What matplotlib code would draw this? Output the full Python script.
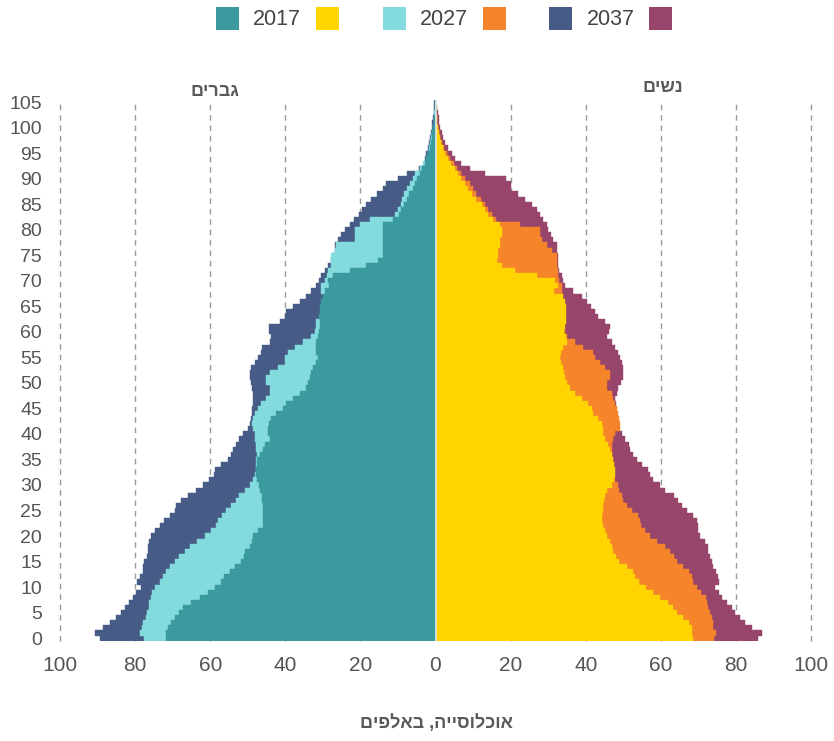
import matplotlib
matplotlib.use("Agg")
import matplotlib.pyplot as plt
from matplotlib.patches import Rectangle
import numpy as np

plt.rcParams['font.family'] = ['Liberation Sans', 'DejaVu Sans']

ages = list(range(0, 106))

# Men (thousands), ages 0..105
men_2017 = [71.7, 71.9, 71.3, 70.4, 69.5, 68.4, 67.3, 65.1, 62.8, 60.6,
            58.8, 57.1, 56.2, 54.8, 53.5, 51.7, 51.0, 50.6, 49.5, 49.0,
            48.6, 47.3, 46.0, 46.0, 46.0, 46.0, 46.0, 46.2, 46.3, 46.7,
            47.0, 47.5, 47.7, 47.7, 47.6, 47.5, 46.7, 46.0, 45.5, 44.2,
            44.6, 44.6, 44.4, 43.7, 42.4, 40.6, 39.7, 38.0, 36.2, 34.4,
            34.0, 33.5, 33.1, 32.6, 31.7, 31.3, 31.7, 31.9, 31.7, 31.3,
            30.9, 30.8, 30.8, 31.0, 30.8, 30.7, 30.4, 30.0, 29.5, 28.4,
            28.6, 27.3, 22.8, 18.4, 15.3, 14.0, 14.0, 14.0, 14.0, 14.0,
            14.0, 14.0, 11.3, 9.7, 9.1, 8.4, 7.7, 7.0, 6.1, 5.5,
            4.8, 4.2, 3.5, 2.8, 2.4, 2.0, 1.5, 1.2, 1.0, 0.8,
            0.6, 0.45, 0.35, 0.25, 0.2, 0.1]
men_2027 = [77.5, 78.7, 78.1, 77.8, 77.2, 76.9, 76.4, 76.2, 75.7, 75.5,
            74.6, 73.5, 72.6, 71.9, 70.8, 69.5, 68.2, 66.8, 65.5, 63.6,
            61.5, 59.7, 58.4, 58.0, 56.8, 55.7, 54.4, 53.1, 52.2, 50.8,
            49.5, 48.6, 48.2, 47.9, 47.9, 47.7, 47.6, 47.7, 47.9, 48.2,
            48.2, 48.6, 48.8, 48.6, 48.2, 47.3, 46.4, 45.1, 44.2, 44.2,
            45.1, 45.1, 44.2, 41.9, 40.2, 40.2, 39.3, 37.5, 35.3, 33.1,
            32.2, 31.7, 31.7, 30.7, 30.5, 30.4, 30.1, 29.7, 30.4, 30.4,
            29.5, 29.0, 28.6, 27.7, 27.7, 27.7, 26.8, 26.4, 21.5, 21.5,
            21.5, 20.2, 17.5, 10.8, 10.0, 9.1, 8.8, 8.4, 7.7, 6.8,
            6.1, 5.5, 4.2, 3.3, 2.6, 2.1, 1.7, 1.4, 1.1, 0.9,
            0.7, 0.5, 0.4, 0.3, 0.2, 0.15]
men_2037 = [89.4, 90.6, 88.6, 86.8, 85.1, 83.7, 82.8, 81.5, 80.6, 79.7,
            78.4, 79.6, 78.8, 78.0, 78.0, 77.5, 76.9, 76.6, 76.6, 76.4,
            75.7, 74.8, 73.5, 72.2, 70.8, 69.5, 69.1, 67.7, 66.0, 63.7,
            62.0, 60.2, 59.1, 58.8, 57.1, 55.3, 54.5, 54.0, 53.1, 52.2,
            51.3, 50.0, 49.3, 49.1, 49.0, 48.8, 48.6, 48.6, 48.6, 48.8,
            49.1, 49.3, 49.3, 49.1, 48.2, 47.3, 46.4, 46.1, 44.2, 43.7,
            44.4, 44.4, 41.5, 40.2, 39.7, 38.0, 36.2, 34.4, 33.1, 31.8,
            31.0, 30.4, 29.5, 28.6, 27.7, 27.3, 26.8, 26.8, 26.0, 25.1,
            24.2, 22.8, 21.7, 20.4, 19.7, 18.6, 17.2, 15.6, 14.0, 13.1,
            10.0, 7.5, 4.5, 3.0, 2.7, 2.4, 2.1, 1.8, 1.5, 1.2,
            1.0, 0.8, 0.6, 0.5, 0.4, 0.3]

# Women (thousands), ages 0..105
women_2017 = [68.6, 68.4, 68.3, 67.4, 66.0, 64.4, 63.2, 61.8, 59.8, 58.0,
              56.1, 54.3, 53.1, 52.5, 50.9, 48.9, 48.1, 47.4, 46.9, 46.5,
              45.8, 45.1, 44.5, 44.3, 44.3, 44.5, 44.7, 44.9, 45.1, 45.6,
              46.9, 47.6, 47.8, 47.8, 47.5, 47.4, 46.9, 46.5, 46.0, 45.1,
              44.7, 44.7, 44.3, 43.4, 42.0, 41.6, 40.7, 38.9, 37.1, 35.8,
              34.9, 34.5, 34.3, 34.0, 33.4, 33.2, 33.4, 34.0, 34.9, 34.7,
              34.3, 34.5, 34.7, 34.7, 34.7, 34.7, 34.5, 34.0, 31.5, 32.5,
              31.8, 26.9, 21.1, 17.6, 16.3, 16.7, 16.7, 17.1, 17.3, 17.6,
              17.6, 17.1, 15.4, 14.0, 13.1, 12.3, 10.9, 9.6, 8.7, 7.8,
              6.9, 6.0, 5.1, 4.2, 3.3, 2.5, 2.0, 1.5, 1.1, 0.8,
              0.6, 0.4, 0.3, 0.2, 0.15, 0.1]
women_2027 = [74.3, 74.8, 74.0, 73.9, 73.6, 73.1, 72.7, 72.4, 72.1, 70.7,
              69.6, 68.7, 68.3, 67.4, 66.0, 64.3, 63.4, 62.5, 61.1, 58.9,
              57.2, 55.8, 54.7, 54.5, 54.0, 52.3, 50.9, 50.0, 49.6, 48.9,
              48.5, 47.8, 47.5, 47.5, 47.5, 47.4, 46.9, 46.9, 46.9, 47.4,
              47.8, 49.2, 49.2, 48.9, 48.7, 48.3, 47.8, 47.4, 46.9, 45.6,
              45.6, 46.5, 46.5, 45.1, 43.8, 42.5, 42.0, 39.4, 37.1, 35.0,
              34.5, 34.2, 34.4, 34.4, 34.4, 34.4, 34.2, 33.7, 33.6, 33.6,
              33.0, 32.7, 32.5, 32.3, 32.3, 32.3, 30.9, 29.6, 28.3, 27.8,
              27.8, 22.5, 16.2, 15.0, 14.0, 13.2, 12.0, 10.8, 10.0, 9.1,
              7.8, 6.8, 5.8, 4.8, 3.9, 3.0, 2.3, 1.7, 1.3, 1.0,
              0.7, 0.5, 0.35, 0.25, 0.2, 0.12]
women_2037 = [86.0, 87.0, 84.3, 82.5, 81.2, 79.8, 78.9, 77.6, 76.3, 75.5,
              74.5, 75.6, 75.1, 74.7, 74.0, 73.6, 73.0, 72.7, 72.7, 71.8,
              70.5, 70.0, 69.9, 69.6, 68.7, 66.9, 65.6, 64.7, 63.4, 61.1,
              59.8, 57.9, 57.1, 56.7, 54.9, 53.6, 52.7, 51.8, 51.4, 50.5,
              49.6, 48.7, 48.8, 48.5, 48.3, 48.0, 48.2, 47.8, 48.3, 48.7,
              49.3, 50.0, 50.0, 50.0, 49.6, 49.1, 48.7, 47.8, 46.9, 45.6,
              46.3, 46.5, 45.1, 43.4, 42.5, 41.4, 40.3, 38.9, 36.7, 34.5,
              34.0, 33.6, 32.9, 32.7, 32.7, 32.7, 32.3, 32.3, 31.4, 30.7,
              30.0, 29.6, 28.7, 27.8, 26.9, 25.6, 23.8, 22.0, 20.1, 20.1,
              18.9, 13.1, 9.1, 6.9, 5.1, 4.3, 3.4, 2.5, 2.0, 1.6,
              1.2, 1.0, 0.8, 0.6, 0.4, 0.2]

years = ["2017", "2027", "2037"]
men_colors = {"2017": "#3A9A9E", "2027": "#83DBDE", "2037": "#465C86"}
women_colors = {"2017": "#FFD400", "2027": "#F5842A", "2037": "#97456B"}

x_ticks = [-100, -80, -60, -40, -20, 0, 20, 40, 60, 80, 100]
x_tick_labels = ["100", "80", "60", "40", "20", "0", "20", "40", "60", "80", "100"]
y_ticks = list(range(0, 106, 5))

men_label = "גברים"
women_label = "נשים"
x_title = "אוכלוסייה, באלפים"


def vis(s):
    # visual (left-to-right glyph) order for right-to-left Hebrew text
    return s[::-1]


W, H = 834, 741
fig = plt.figure(figsize=(W / 100, H / 100), dpi=100)
ax_left, ax_right, ax_top, ax_bottom = 60, 811, 99.5, 640.7
ax = fig.add_axes([ax_left / W, 1 - ax_bottom / H,
                   (ax_right - ax_left) / W, (ax_bottom - ax_top) / H])

men = {"2017": men_2017, "2027": men_2027, "2037": men_2037}
women = {"2017": women_2017, "2027": women_2027, "2037": women_2037}

for z, yr in enumerate(["2037", "2027", "2017"]):
    mv = -np.array(men[yr])
    wv = np.array(women[yr])
    ax.barh(ages, mv, height=1.0, color=men_colors[yr],
            edgecolor=men_colors[yr], linewidth=0.3, zorder=2 + z)
    ax.barh(ages, wv, height=1.0, color=women_colors[yr],
            edgecolor=women_colors[yr], linewidth=0.3, zorder=2 + z)

ax.axvline(0, color="#dfe7ea", lw=1.2, zorder=10)

for xv in x_ticks:
    if xv == 0:
        continue
    ax.axvline(xv, color="#9a9a9a", lw=1.0, ls=(0, (4, 3.5)), zorder=1,
               clip_on=False)

ax.set_xlim(-100, 100)
ax.set_ylim(-0.5, 105.5)
ax.set_xticks(x_ticks)
ax.set_xticklabels(x_tick_labels)
ax.set_yticks(y_ticks)
ax.set_yticklabels([str(v) for v in y_ticks])
ax.tick_params(axis="x", length=0, pad=11, labelsize=15, labelcolor="#555555")
ax.tick_params(axis="y", length=0, pad=13, labelsize=14, labelcolor="#555555")
for s in ax.spines.values():
    s.set_visible(False)

# gender labels
fig.text(215 / W, 1 - 91 / H, vis(men_label), ha="center", va="center",
         fontsize=13, fontweight="bold", color="#595959")
fig.text(663 / W, 1 - 88 / H, vis(women_label), ha="center", va="center",
         fontsize=13, fontweight="bold", color="#595959")

# x title
fig.text(436 / W, 1 - 723 / H, vis(x_title), ha="center", va="center",
         fontsize=13, fontweight="bold", color="#595959")

# legend
sq = 23
leg_items = [
    (216, men_colors["2017"]), (316, women_colors["2017"]),
    (383, men_colors["2027"]), (483, women_colors["2027"]),
    (549, men_colors["2037"]), (649, women_colors["2037"]),
]
for x0, c in leg_items:
    fig.add_artist(Rectangle((x0 / W, 1 - 30 / H), sq / W, sq / H,
                             transform=fig.transFigure, color=c, lw=0))
for x0, yr in [(253, "2017"), (420, "2027"), (587, "2037")]:
    fig.text(x0 / W, 1 - 19.5 / H, yr, ha="left", va="center",
             fontsize=15.5, color="#444444")

fig.savefig("out.png", dpi=100)
